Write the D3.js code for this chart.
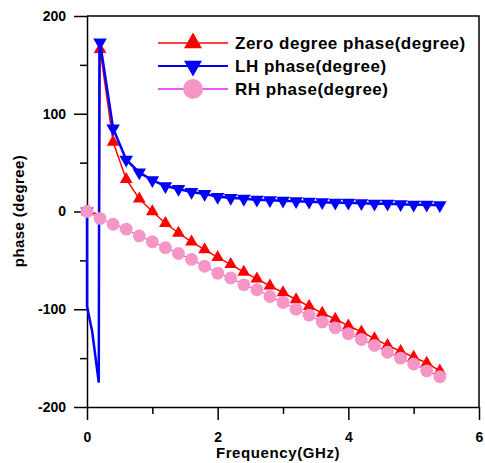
<!DOCTYPE html>
<html>
<head>
<meta charset="utf-8">
<script src="https://cdn.jsdelivr.net/npm/d3@7"></script>
<style>
  body { margin: 0; background: #fff; }
  svg { display: block; font-family: Arial, "Liberation Sans", sans-serif; }
  .axis text { font-size: 14px; font-weight: bold; fill: #000; }
  .axis path, .axis line { stroke: #000; stroke-width: 1.5px; }
</style>
</head>
<body>
<svg id="chart" width="485" height="463"></svg>
<script>
// frequency of the markers (GHz)
let freq = [0, 0.2, 0.4, 0.6, 0.8, 1.0, 1.2, 1.4, 1.6, 1.8, 2.0, 2.2, 2.4, 2.6,
    2.8, 3.0, 3.2, 3.4, 3.6, 3.8, 4.0, 4.2, 4.4, 4.6, 4.8, 5.0, 5.2, 5.4];

let zeroPhase = [0, 166, 71, 33, 13, 0, -12, -22, -31, -39, -47, -54, -62, -69,
    -76, -83, -90, -97, -104, -110, -117, -123, -130, -137, -143, -149, -155, -163];

let lhPhase = [0, 173, 85, 53, 40, 32, 26, 23, 20, 18, 15, 14, 13, 12,
    11.5, 11, 10.5, 10, 9.5, 9, 9, 8.5, 8, 8, 7.5, 7, 7, 6.5];

let rhPhase = [0, -7, -13, -18, -25, -31, -37, -43, -49, -56, -63, -68, -75, -80,
    -87, -93, -100, -106, -113, -119, -125, -131, -137, -144, -150, -156, -163, -169];

// extra line points of the phase jump near 0.2 GHz (no markers there)
let lhJump = [[0, -97], [0.08, -123], [0.18, -175], [0.19, 173]];
let zeroJump = [[0.19, -3]];

let xTicks = [0, 2, 4, 6];
let xMinor = [1, 3, 5];
let yTicks = [-200, -100, 0, 100, 200];
let yMinor = [-150, -50, 50, 150];

let seriesNames = ["Zero degree phase(degree)", "LH phase(degree)", "RH phase(degree)"];

let svg = d3.select("#chart");

let x = d3.scaleLinear().domain([0, 6]).range([87, 479]);
let y = d3.scaleLinear().domain([-200, 200]).range([407, 16]);

// frame (top and right)
svg.append("path")
    .attr("d", "M" + x(0) + "," + y(200) + "H" + x(6) + "V" + y(-200))
    .attr("fill", "none")
    .attr("stroke", "#000")
    .attr("stroke-width", 1.5);

// axes
svg.append("g").attr("class", "axis")
    .attr("transform", "translate(0," + y(-200) + ")")
    .call(d3.axisBottom(x).tickValues(xTicks).tickSize(13).tickSizeOuter(0)
        .tickPadding(12).tickFormat(d => String(d)));
svg.append("g").attr("class", "axis")
    .attr("transform", "translate(0," + y(-200) + ")")
    .call(d3.axisBottom(x).tickValues(xMinor).tickSize(7).tickFormat(""))
    .select(".domain").remove();

svg.append("g").attr("class", "axis")
    .attr("transform", "translate(" + x(0) + ",0)")
    .call(d3.axisLeft(y).tickValues(yTicks).tickSize(13).tickSizeOuter(0)
        .tickPadding(8).tickFormat(d => String(d)));
svg.append("g").attr("class", "axis")
    .attr("transform", "translate(" + x(0) + ",0)")
    .call(d3.axisLeft(y).tickValues(yMinor).tickSize(7).tickFormat(""))
    .select(".domain").remove();

svg.append("text")
    .attr("x", 278).attr("y", 458)
    .attr("text-anchor", "middle")
    .style("font-size", "15px").style("font-weight", "bold")
    .style("letter-spacing", "0.6px")
    .text("Frequency(GHz)");

svg.append("text")
    .attr("transform", "translate(24,211) rotate(-90)")
    .attr("text-anchor", "middle")
    .style("font-size", "15px").style("font-weight", "bold")
    .style("letter-spacing", "0.4px")
    .text("phase (degree)");

// series
let line = d3.line().x(d => x(d[0])).y(d => y(d[1]));

function withJump(values, jump) {
    let pts = freq.map((f, i) => [f, values[i]]);
    return [pts[0]].concat(jump, pts.slice(1));
}

let series = [
    {name: seriesNames[0], pts: withJump(zeroPhase, zeroJump), vals: zeroPhase,
        line: "#ff0000", lw: 1.5, fill: "#ff0000", sym: d3.symbolTriangle, rot: 0, size: 70, lsize: 140},
    {name: seriesNames[1], pts: withJump(lhPhase, lhJump), vals: lhPhase,
        line: "#0000ff", lw: 2.5, fill: "#0000ff", sym: d3.symbolTriangle, rot: 180, size: 80, lsize: 140},
    {name: seriesNames[2], pts: withJump(rhPhase, []), vals: rhPhase,
        line: "#ee22ee", lw: 1, fill: "#f696c6", sym: d3.symbolCircle, rot: 0, size: 130, lsize: 310}
];

series.forEach(function (s) {
    let g = svg.append("g");
    g.append("path")
        .datum(s.pts)
        .attr("d", line)
        .attr("fill", "none")
        .attr("stroke", s.line)
        .attr("stroke-width", s.lw);
    g.selectAll("path.mark")
        .data(s.vals)
        .enter().append("path")
        .attr("class", "mark")
        .attr("d", d3.symbol().type(s.sym).size(s.size))
        .attr("transform", (d, i) => "translate(" + x(freq[i]) + "," + y(d) + ") rotate(" + s.rot + ")")
        .attr("fill", s.fill);
});

// legend
let legend = svg.append("g").attr("transform", "translate(158,43)");
series.forEach(function (s, i) {
    let row = legend.append("g").attr("transform", "translate(0," + (i * 23) + ")");
    row.append("line")
        .attr("x1", 0).attr("x2", 70)
        .attr("stroke", s.line)
        .attr("stroke-width", i === 1 ? 2 : 1.5);
    row.append("path")
        .attr("d", d3.symbol().type(s.sym).size(s.lsize))
        .attr("transform", "translate(35,0) rotate(" + s.rot + ")")
        .attr("fill", s.fill);
    row.append("text")
        .attr("x", 77).attr("y", 6)
        .style("font-size", "17px").style("font-weight", "bold")
        .style("letter-spacing", "0.5px")
        .text(s.name);
});
</script>
</body>
</html>
